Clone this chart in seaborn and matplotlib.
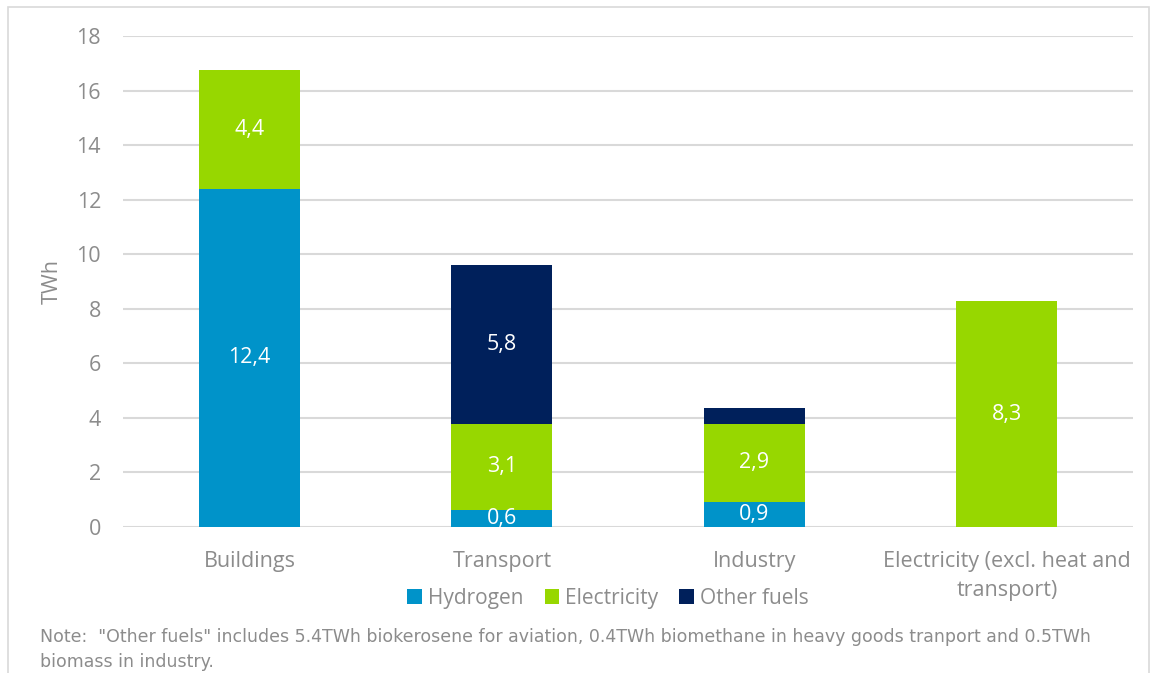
import matplotlib
matplotlib.use("Agg")
import matplotlib.pyplot as plt
from matplotlib.patches import Patch, Rectangle
import numpy as np
import pandas as pd
import seaborn as sns

categories = ["Buildings", "Transport", "Industry", "Electricity (excl. heat and\ntransport)"]
hydrogen = [12.39, 0.64, 0.92, 0.0]
electricity = [4.37, 3.14, 2.86, 8.28]
other_fuels = [0.0, 5.82, 0.58, 0.0]
series_names = ["Hydrogen", "Electricity", "Other fuels"]
y_ticks = [0, 2, 4, 6, 8, 10, 12, 14, 16, 18]
note = ('Note:  "Other fuels" includes 5.4TWh biokerosene for aviation, 0.4TWh biomethane in heavy goods tranport and 0.5TWh\n'
        'biomass in industry.')

colors = {"Hydrogen": "#0093C9", "Electricity": "#97D700", "Other fuels": "#00205B"}
text_grey = "#8C8C8C"
grid_grey = "#D9D9D9"

sns.set_style("white")
plt.rcParams["font.family"] = ["Open Sans", "DejaVu Sans"]

df = pd.DataFrame({
    "category": categories,
    "Hydrogen": hydrogen,
    "Electricity": electricity,
    "Other fuels": other_fuels,
})
df["h_e"] = df["Hydrogen"] + df["Electricity"]
df["total"] = df["h_e"] + df["Other fuels"]

fig = plt.figure(figsize=(11.52, 6.73), dpi=100)
ax = fig.add_axes([0.107, 0.217, 0.8765, 0.7295])

# stacked by drawing cumulative totals back to front
sns.barplot(data=df, x="category", y="total", color=colors["Other fuels"],
            width=0.4, saturation=1, linewidth=0, ax=ax, zorder=3)
sns.barplot(data=df, x="category", y="h_e", color=colors["Electricity"],
            width=0.4, saturation=1, linewidth=0, ax=ax, zorder=3)
sns.barplot(data=df, x="category", y="Hydrogen", color=colors["Hydrogen"],
            width=0.4, saturation=1, linewidth=0, ax=ax, zorder=3)

# value labels in the middle of each segment (skip tiny/empty ones)
for i in range(len(categories)):
    base = 0.0
    for name in series_names:
        v = df[name].iloc[i]
        if v >= 0.6:
            ax.text(i, base + v / 2, f"{v:.1f}".replace(".", ","), ha="center", va="center",
                    color="white", fontsize=15.5, zorder=4)
        base += v

ax.set_ylim(0, 18)
ax.set_xlim(-0.5, len(categories) - 0.5)
ax.set_yticks(y_ticks)
ax.yaxis.grid(True, color=grid_grey, linewidth=1.5, zorder=0)
ax.set_axisbelow(True)
for s in ax.spines.values():
    s.set_visible(False)
ax.tick_params(axis="both", length=0, labelsize=15.5, labelcolor=text_grey)
ax.tick_params(axis="x", pad=17)
ax.tick_params(axis="y", pad=16)
ax.set_xlabel("")
ax.set_ylabel("TWh", color=text_grey, fontsize=15.5, labelpad=10)
for lab in ax.get_xticklabels():
    lab.set_multialignment("center")
    lab.set_linespacing(1.5)

handles = [Patch(facecolor=colors[n], edgecolor="none", label=n) for n in series_names]
fig.legend(handles=handles, loc="center", bbox_to_anchor=(0.528, 0.111), ncol=3,
           frameon=False, fontsize=15, labelcolor=text_grey, handlelength=0.7,
           handleheight=0.7, handletextpad=0.3, columnspacing=1.0)

fig.text(0.035, 0.035, note, fontsize=12.5, color=text_grey, va="center", linespacing=1.5,
         family=["Liberation Sans Narrow", "DejaVu Sans"])

fig.patches.append(Rectangle((8 / 1152, -0.01), 1141 / 1152, 1 - 7 / 673 + 0.01,
                             transform=fig.transFigure, fill=False,
                             edgecolor=grid_grey, linewidth=1.2))

fig.savefig("out.png", dpi=100)
plt.close(fig)
